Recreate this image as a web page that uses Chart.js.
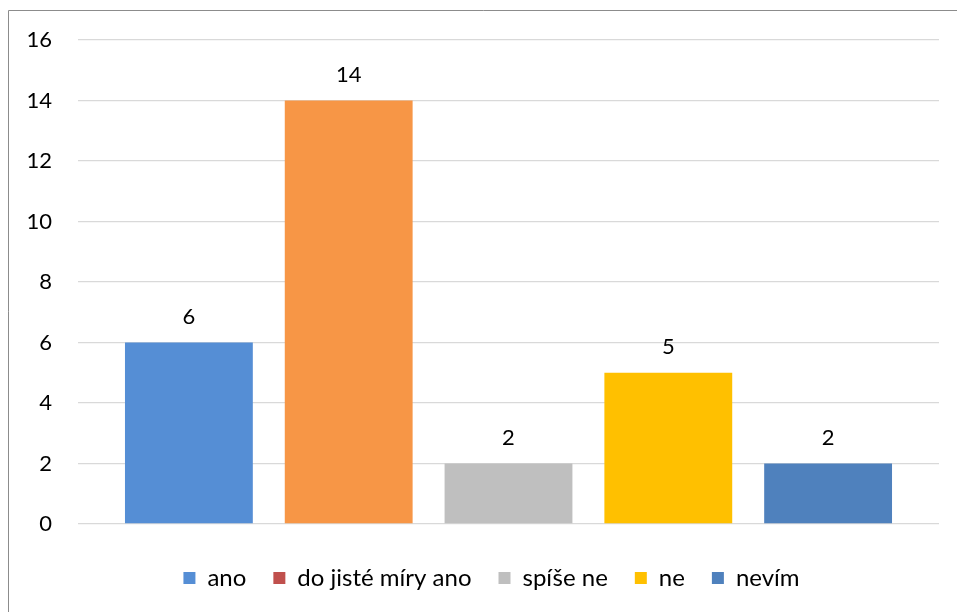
<!DOCTYPE html>
<html>
<head>
<meta charset="utf-8">
<script src="https://cdn.jsdelivr.net/npm/chart.js@4/dist/chart.umd.min.js"></script>
<style>
  html, body { margin: 0; padding: 0; background: #fff; }
  #wrap { position: absolute; left: 0; top: 0; width: 957px; height: 612px; }
</style>
</head>
<body>
<div id="wrap"><canvas id="c" width="957" height="612"></canvas></div>
<script>
const seriesNames = ['ano', 'do jisté míry ano', 'spíše ne', 'ne', 'nevím'];
const seriesValues = [6, 14, 2, 5, 2];
const barColors = ['#558ed5', '#f79646', '#bfbfbf', '#ffc000', '#4f81bd'];
const legendColors = ['#558ed5', '#c0504d', '#bfbfbf', '#ffc000', '#4f81bd'];
const categories = [''];
const yTicks = [0, 2, 4, 6, 8, 10, 12, 14, 16];

const FONT = 'Lato, "Open Sans", sans-serif';

const datasets = seriesNames.map((name, i) => ({
  label: name,
  data: [seriesValues[i]],
  backgroundColor: barColors[i],
  borderWidth: 0,
  categoryPercentage: 0.928,
  barPercentage: 0.8
}));

const frame = {
  id: 'frame',
  beforeDraw(chart) {
    const ctx = chart.ctx;
    ctx.save();
    ctx.strokeStyle = '#8c8c8c';
    ctx.lineWidth = 1;
    ctx.beginPath();
    ctx.moveTo(8.5, 700);
    ctx.lineTo(8.5, 10.5);
    ctx.lineTo(1000, 10.5);
    ctx.stroke();
    ctx.restore();
  }
};

const legendShift = {
  id: 'legendShift',
  afterLayout(chart) {
    if (chart.legend) { chart.legend.left = 44; }
  }
};

const valueLabels = {
  id: 'valueLabels',
  afterDatasetsDraw(chart) {
    const ctx = chart.ctx;
    ctx.save();
    ctx.font = '22px ' + FONT;
    ctx.fillStyle = '#000';
    ctx.textAlign = 'center';
    ctx.textBaseline = 'alphabetic';
    chart.data.datasets.forEach((ds, i) => {
      const meta = chart.getDatasetMeta(i);
      meta.data.forEach((bar, j) => {
        ctx.fillText(String(ds.data[j]), bar.x, bar.y - 19);
      });
    });
    ctx.restore();
  }
};

new Chart(document.getElementById('c'), {
  type: 'bar',
  data: { labels: categories, datasets },
  options: {
    responsive: false,
    animation: false,
    layout: { padding: { left: 0, right: 18, top: 40, bottom: 12 } },
    plugins: {
      tooltip: { enabled: false },
      legend: {
        position: 'bottom',
        labels: {
          font: { family: FONT, size: 24 },
          color: '#000',
          boxWidth: 12,
          boxHeight: 12,
          padding: 27,
          generateLabels(chart) {
            return chart.data.datasets.map((ds, i) => ({
              text: ds.label,
              fillStyle: legendColors[i],
              strokeStyle: legendColors[i],
              lineWidth: 0,
              hidden: false,
              datasetIndex: i
            }));
          }
        }
      }
    },
    scales: {
      x: {
        grid: { display: false },
        border: { display: false },
        ticks: { display: false },
        afterFit(scale) { scale.height = 15; }
      },
      y: {
        min: 0,
        max: 16,
        afterBuildTicks(scale) { scale.ticks = yTicks.map(v => ({ value: v })); },
        ticks: {
          font: { family: FONT, size: 22 },
          color: '#000',
          padding: 26
        },
        grid: { color: '#d9d9d9', lineWidth: 1.3, drawTicks: false },
        border: { display: false },
        afterFit(scale) { scale.width = 78; }
      }
    }
  },
  plugins: [frame, legendShift, valueLabels]
});
</script>
</body>
</html>
